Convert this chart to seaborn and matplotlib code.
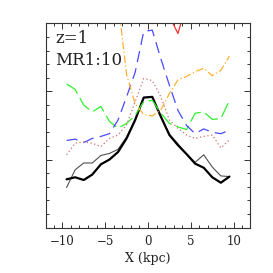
import numpy as np
import pandas as pd
import matplotlib
matplotlib.use("Agg")
import matplotlib.pyplot as plt
import seaborn as sns
from matplotlib.ticker import MultipleLocator

x = [-9.5, -8.5, -7.5, -6.5, -5.5, -4.5, -3.5, -2.5, -1.5, -0.5,
     0.5, 1.5, 2.5, 3.5, 4.5, 5.5, 6.5, 7.5, 8.5, 9.5]

black_thick = [0.71, 0.74, 0.70, 0.78, 0.93, 1.00, 1.11, 1.31, 1.58, 1.91,
               1.92, 1.63, 1.36, 1.21, 1.08, 0.94, 0.88, 0.74, 0.66, 0.75]
black_thin = [0.59, 0.85, 0.95, 0.95, 1.06, 1.09, 1.15, 1.33, 1.59, 1.91,
              1.92, 1.63, 1.37, 1.23, 1.08, 0.96, 1.07, 0.89, 0.76, 0.75]
green = [2.11, 2.03, 1.80, 1.70, 1.78, 1.56, 1.46, 1.53, 1.65, 1.85,
         1.87, 1.68, 1.53, 1.48, 1.44, 1.68, 1.70, 1.59, 1.60, 1.87]
blue = [1.28, 1.30, 1.25, 1.31, 1.34, 1.38, 1.58, 1.92, 2.28, 2.88,
        2.90, 2.48, 2.09, 1.72, 1.50, 1.38, 1.45, 1.40, 1.38, 1.43]
pink = [1.07, 1.24, 1.26, 1.24, 1.19, 1.31, 1.36, 1.51, 1.85, 2.19,
        2.16, 1.92, 1.58, 1.46, 1.36, 1.31, 1.34, 1.36, 1.17, 1.29]
orange_x = [-3.5, -2.5, -1.5, -0.5, 0.5, 1.5, 2.5, 3.5, 4.5, 5.5, 6.5, 7.5, 8.5, 9.5]
orange = [3.33, 2.25, 1.82, 1.66, 1.64, 1.73, 1.97, 2.17, 2.22, 2.29, 2.34, 2.23, 2.31, 2.52]
red_x = [2.5, 3.5, 4.5]
red = [3.10, 2.85, 3.30]

labels = ["z=1", "MR1:10"]
xlabel = "X (kpc)"

sns.set_style("ticks")
plt.rcParams['font.family'] = ['DejaVu Serif']
plt.rcParams['axes.unicode_minus'] = True

fig = plt.figure(figsize=(2.73, 2.73), dpi=100)
ax = fig.add_axes([46/273, 1 - 227.7/273, 204/273, 204.4/273])

sns.lineplot(x=x, y=black_thin, ax=ax, color="#505050", lw=0.8)
sns.lineplot(x=x, y=black_thick, ax=ax, color="black", lw=1.6)
sns.lineplot(x=x, y=green, ax=ax, color="#30f030", lw=0.9, linestyle=(0, (12, 4)))
sns.lineplot(x=x, y=blue, ax=ax, color="#4a4aff", lw=0.9, linestyle=(0, (9, 5)))
sns.lineplot(x=x, y=pink, ax=ax, color="#d07070", lw=0.9, linestyle=(0, (1, 2)))
sns.lineplot(x=orange_x, y=orange, ax=ax, color="#ffb030", lw=0.9, linestyle=(0, (6, 2, 1, 2)))
sns.lineplot(x=red_x, y=red, ax=ax, color="#ff3030", lw=0.9)

ax.set_xlim(-11.9, 11.9)
ax.set_ylim(0, 3)
ax.xaxis.set_major_locator(MultipleLocator(5))
ax.xaxis.set_minor_locator(MultipleLocator(1))
ax.yaxis.set_major_locator(MultipleLocator(1))
ax.yaxis.set_minor_locator(MultipleLocator(0.2))
ax.tick_params(which="both", direction="in", top=True, right=True, labelsize=8.5, width=0.7, colors="#333333", pad=5)
ax.tick_params(which="major", length=4.5)
ax.tick_params(which="minor", length=2.2)
ax.tick_params(axis="x", labelcolor="#222222")
ax.set_yticklabels([])
for s in ax.spines.values():
    s.set_linewidth(0.8)
    s.set_color("#333333")
ax.set_xlabel(xlabel, fontsize=9, labelpad=3, color="#222222")
ax.set_ylabel("")

ax.text(0.045, 0.965, labels[0], transform=ax.transAxes, fontsize=12, va="top", ha="left", color="#222222")
ax.text(0.045, 0.86, labels[1], transform=ax.transAxes, fontsize=12, va="top", ha="left", color="#222222")

fig.savefig("out.png", dpi=100)
